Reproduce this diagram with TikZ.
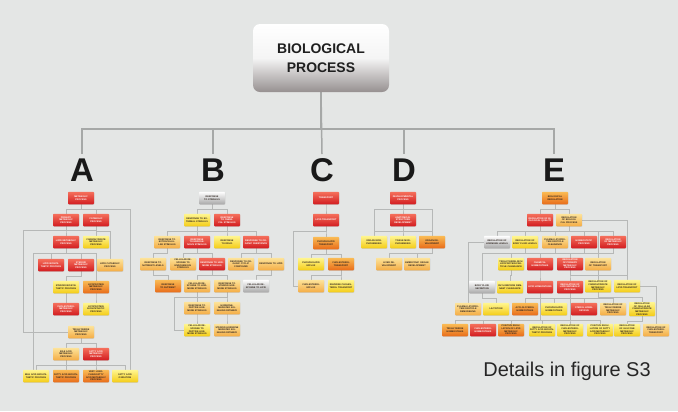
\documentclass[tikz,border=0pt]{standalone}
\usepackage{fontspec}
\setmainfont{Liberation Sans}
\usetikzlibrary{shadows,calc,backgrounds}
\definecolor{bgc}{RGB}{228,230,229}
\definecolor{linec}{RGB}{166,168,167}
\definecolor{conc}{RGB}{182,184,183}
\definecolor{rT}{RGB}{245,112,92}
\definecolor{rB}{RGB}{210,28,32}
\definecolor{oT}{RGB}{250,188,85}
\definecolor{oB}{RGB}{232,108,25}
\definecolor{lT}{RGB}{253,228,155}
\definecolor{lB}{RGB}{244,172,68}
\definecolor{yT}{RGB}{255,246,145}
\definecolor{yB}{RGB}{244,204,22}
\definecolor{wB}{RGB}{168,168,168}
\definecolor{txtd}{RGB}{45,35,30}
\definecolor{topB}{RGB}{150,144,144}
\newcommand\myedge[3]{\draw[cn] (#1.south) -- ++(0,#3) -| (#2.north);}
\tikzset{
  bx/.style={rounded corners=0.8bp, minimum width=26bp, minimum height=12.5bp,
    text width=24bp, inner xsep=1bp, inner ysep=0.8bp, align=center,
    font=\bfseries\fontsize{2.3}{2.7}\selectfont,
    drop shadow={opacity=0.22, shadow xshift=0.4bp, shadow yshift=-0.5bp}},
  cR/.style={bx, top color=rT, bottom color=rB, text=white},
  cO/.style={bx, top color=oT, bottom color=oB, text=txtd},
  cL/.style={bx, top color=lT, bottom color=lB, text=txtd},
  cY/.style={bx, top color=yT, bottom color=yB, text=txtd},
  cW/.style={bx, top color=white, bottom color=wB, text=txtd},
  cn/.style={draw=conc, line width=0.6bp},
  mainln/.style={draw=linec, line width=1.5bp},
  letter/.style={font=\bfseries\fontsize{33}{33}\selectfont, text=black!90, inner sep=0pt,
    text height=24bp, text depth=0pt, outer sep=3bp, anchor=base},
  topbox/.style={rounded corners=7bp, minimum width=136bp, minimum height=68bp,
    top color=white, bottom color=topB, middle color=white!92!gray,
    align=center, text=black!88, font=\bfseries\fontsize{14}{19}\selectfont}
}
\begin{document}
\begin{tikzpicture}[x=1bp,y=-1bp]
\useasboundingbox (0,0) rectangle (678,411);

% ---------- top ----------
\node[topbox] (T) at (321,58) {BIOLOGICAL\\PROCESS};
\node[letter] (LA) at (82,181) {A};
\node[letter] (LB) at (213,181) {B};
\node[letter] (LC) at (322,181) {C};
\node[letter] (LD) at (404,181) {D};
\node[letter] (LE) at (554,181) {E};

% ---------- A nodes ----------
\node[cR] (A1) at (81,198) {METABOLIC PROCESS};
\node[cR] (A2) at (66,220) {PRIMARY METABOLIC PROCESS};
\node[cR] (A3) at (96,220) {CATABOLIC PROCESS};
\node[cR] (A4) at (66,242) {LIPID METABOLIC PROCESS};
\node[cY] (A5) at (96,242) {CARBOHYDRATE METABOLIC PROCESS};
\node[cR] (A6) at (51,265) {LIPID BIOSYNTHETIC PROCESS};
\node[cR] (A7) at (81,265) {STEROID METABOLIC PROCESS};
\node[cL] (A8) at (110,265) {LIPID CATABOLIC PROCESS};
\node[cY] (A9) at (66,287) {STEROID BIOSYNTHETIC PROCESS};
\node[cO] (A10) at (96,287) {LIPOPROTEIN METABOLIC PROCESS};
\node[cR] (A11) at (66,309) {CHOLESTEROL METABOLIC PROCESS};
\node[cY] (A12) at (96,309) {LIPOPROTEIN BIOSYNTHETIC PROCESS};
\node[cL] (A13) at (81,332) {TRIGLYCERIDE METABOLIC PROCESS};
\node[cL] (A14) at (66,354) {BILE ACID METABOLIC PROCESS};
\node[cR] (A15) at (96,354) {FATTY ACID METABOLIC PROCESS};
\node[cY] (A16) at (36,376) {BILE ACID BIOSYNTHETIC PROCESS};
\node[cO] (A17) at (66,376) {FATTY ACID BIOSYNTHETIC PROCESS};
\node[cO] (A18) at (96,376) {VERY LONG-CHAIN FATTY ACID METABOLIC PROCESS};
\node[cY] (A19) at (125,376) {FATTY ACID OXIDATION};

% ---------- B nodes ----------
\node[cW] (B1) at (212,198) {RESPONSE TO STIMULUS};
\node[cY] (B2) at (197,220) {RESPONSE TO EXTERNAL STIMULUS};
\node[cR] (B3) at (227,220) {RESPONSE TO CHEMICAL STIMULUS};
\node[cL] (B4) at (167,242) {RESPONSE TO EXTRACELLULAR STIMULUS};
\node[cR] (B5) at (197,242) {RESPONSE TO ENDOGENOUS STIMULUS};
\node[cY] (B6) at (227,242) {RESPONSE TO DRUG};
\node[cR] (B7) at (256,242) {RESPONSE TO ORGANIC SUBSTANCE};
\node[cL] (B8) at (153,264) {RESPONSE TO NUTRIENT LEVELS};
\node[cL] (B9) at (183,264) {CELLULAR RESPONSE TO ENDOGENOUS STIMULUS};
\node[cR] (B10) at (212,264) {RESPONSE TO HORMONE STIMULUS};
\node[cL] (B11) at (241,264) {RESPONSE TO ORGANIC CYCLIC COMPOUND};
\node[cL] (B12) at (271,264) {RESPONSE TO LIPID};
\node[cO] (B13) at (168,286) {RESPONSE TO NUTRIENT};
\node[cL] (B14) at (197,286) {CELLULAR RESPONSE TO HORMONE STIMULUS};
\node[cL] (B15) at (227,286) {RESPONSE TO STEROID HORMONE STIMULUS};
\node[cW] (B16) at (256,286) {CELLULAR RESPONSE TO LIPID};
\node[cL] (B17) at (197,308) {RESPONSE TO PEPTIDE HORMONE STIMULUS};
\node[cL] (B18) at (227,308) {HORMONE-MEDIATED SIGNALING PATHWAY};
\node[cY] (B19) at (197,330) {CELLULAR RESPONSE TO PEPTIDE HORMONE STIMULUS};
\node[cL] (B20) at (227,330) {STEROID HORMONE MEDIATED SIGNALING PATHWAY};

% ---------- C nodes ----------
\node[cR] (C1) at (326,198) {TRANSPORT};
\node[cR] (C2) at (326,220) {LIPID TRANSPORT};
\node[cO] (C3) at (326,243) {PHOSPHOLIPID TRANSPORT};
\node[cY] (C4) at (311,264) {PHOSPHOLIPID EFFLUX};
\node[cO] (C5) at (341,264) {CHOLESTEROL TRANSPORT};
\node[cL] (C6) at (311,286) {CHOLESTEROL EFFLUX};
\node[cY] (C7) at (341,286) {REVERSE CHOLESTEROL TRANSPORT};

% ---------- D nodes ----------
\node[cR] (D1) at (403,198) {DEVELOPMENTAL PROCESS};
\node[cR] (D2) at (403,220) {ANATOMICAL STRUCTURE DEVELOPMENT};
\node[cY] (D3) at (374,242) {ORGAN MORPHOGENESIS};
\node[cY] (D4) at (403,242) {TISSUE MORPHOGENESIS};
\node[cO] (D5) at (432,242) {ORGAN DEVELOPMENT};
\node[cL] (D6) at (389,264) {LIVER DEVELOPMENT};
\node[cL] (D7) at (417,264) {EMBRYONIC ORGAN DEVELOPMENT};

% ---------- E nodes ----------
\node[cO] (E1) at (555,198) {BIOLOGICAL REGULATION};
\node[cR] (E2) at (540,220) {REGULATION OF BIOLOGICAL QUALITY};
\node[cL] (E3) at (569,220) {REGULATION OF BIOLOGICAL PROCESS};
\node[cW] (E4) at (497,242) {REGULATION OF HORMONE LEVELS};
\node[cY] (E5) at (525,242) {REGULATION OF BODY FLUID LEVELS};
\node[cL] (E6) at (555,242) {PLASMA LIPOPROTEIN PARTICLE CLEARANCE};
\node[cR] (E7) at (584,242) {HOMEOSTATIC PROCESS};
\node[cR] (E8) at (613,242) {REGULATION OF METABOLIC PROCESS};
\node[cY] (E9) at (511,264) {TRIGLYCERIDE-RICH LIPOPROTEIN PARTICLE CLEARANCE};
\node[cR] (E10) at (540,264) {CHEMICAL HOMEOSTASIS};
\node[cR] (E11) at (570,264) {REGULATION OF PRIMARY METABOLIC PROCESS};
\node[cL] (E12) at (598,264) {REGULATION OF TRANSPORT};
\node[cW] (E13) at (482,287) {BODY FLUID SECRETION};
\node[cY] (E14) at (510,287) {CHYLOMICRON REMNANT CLEARANCE};
\node[cR] (E15) at (540,287) {LIPID HOMEOSTASIS};
\node[cR] (E16) at (570,287) {REGULATION OF LIPID METABOLIC PROCESS};
\node[cY] (E17) at (598,286) {REGULATION OF CARBOHYDRATE METABOLIC PROCESS};
\node[cY] (E18) at (627,286) {REGULATION OF LIPID TRANSPORT};
\node[cL] (E19) at (468,309) {PLASMA LIPOPROTEIN PARTICLE REMODELING};
\node[cY] (E20) at (496,309) {LACTATION};
\node[cO] (E21) at (525,309) {ACYLGLYCEROL HOMEOSTASIS};
\node[cY] (E22) at (554,309) {PHOSPHOLIPID HOMEOSTASIS};
\node[cR] (E23) at (584,309) {STEROL HOMEOSTASIS};
\node[cL] (E24) at (613,309) {REGULATION OF TRIGLYCERIDE METABOLIC PROCESS};
\node[cY] (E25) at (642,309) {REGULATION OF CELLULAR CARBOHYDRATE METABOLIC PROCESS};
\node[cO] (E26) at (455,330) {TRIGLYCERIDE HOMEOSTASIS};
\node[cR] (E27) at (483,330) {CHOLESTEROL HOMEOSTASIS};
\node[cO] (E28) at (511,330) {POSITIVE REGULATION OF LIPID METABOLIC PROCESS};
\node[cY] (E29) at (542,330) {REGULATION OF FATTY ACID BIOSYNTHETIC PROCESS};
\node[cY] (E30) at (570,330) {REGULATION OF CHOLESTEROL METABOLIC PROCESS};
\node[cY] (E31) at (600,330) {POSITIVE REGULATION OF FATTY ACID METABOLIC PROCESS};
\node[cY] (E32) at (627,330) {REGULATION OF GLUCOSE METABOLIC PROCESS};
\node[cL] (E33) at (656,330) {REGULATION OF CHOLESTEROL TRANSPORT};

\node[font=\fontsize{20}{24}\selectfont, text=black!85, inner sep=0pt] (note) at (567,371) {Details in figure S3};

% ---------- background + connectors (behind boxes) ----------
\begin{pgfonlayer}{background}
\fill[bgc] (0,0) rectangle (678,411);
\foreach \l in {LA,LB,LD,LE}{\draw[mainln] (T.south) -- ++(0,37) -| (\l.north);}
\draw[mainln] (T.south) -- (LC.north);
% A
\myedge{A1}{A2}{5} \myedge{A1}{A3}{5}
\draw[cn] (A1.south) -- ++(0,5) -| ([xshift=5bp]A19.north);
\myedge{A2}{A4}{4} \myedge{A2}{A5}{4}
\draw[cn] (A2.south) -- ++(0,4) -| ([xshift=-45bp]A13.west) -- (A13.west);
\myedge{A3}{A8}{5}
\myedge{A4}{A6}{5} \myedge{A4}{A7}{5} \myedge{A4}{A10}{5}
\draw[cn] (A4.south) -- ++(0,5) -| ([xshift=-3bp]A16.north);
\myedge{A7}{A9}{5} \myedge{A7}{A11}{5}
\myedge{A10}{A12}{5}
\myedge{A13}{A14}{5} \myedge{A13}{A15}{5}
\myedge{A14}{A16}{5} \myedge{A15}{A17}{5} \myedge{A15}{A18}{5} \myedge{A15}{A19}{5}
% B
\myedge{B1}{B2}{5} \myedge{B1}{B3}{5}
\myedge{B2}{B4}{5} \myedge{B3}{B5}{5} \myedge{B3}{B6}{5} \myedge{B3}{B7}{5}
\myedge{B4}{B8}{5} \myedge{B5}{B9}{5} \myedge{B5}{B10}{5} \myedge{B7}{B11}{5} \myedge{B7}{B12}{5}
\myedge{B8}{B13}{5} \myedge{B10}{B14}{5} \myedge{B10}{B15}{5} \myedge{B12}{B16}{5}
\myedge{B15}{B17}{5} \myedge{B15}{B18}{5}
\draw[cn] (B14.south) -- ++(0,5) -| ([xshift=-10bp]B19.west) -- (B19.west);
\myedge{B17}{B19}{5} \myedge{B18}{B20}{5}
% C
\myedge{C1}{C2}{5} \myedge{C2}{C3}{5} \myedge{C3}{C4}{5} \myedge{C3}{C5}{5}
\myedge{C5}{C6}{5} \myedge{C5}{C7}{5}
\draw[cn] (C2.south) -- ++(0,5) -| ([xshift=-5bp]C6.west) -- (C6.west);
% D
\myedge{D1}{D2}{5} \myedge{D1}{D3}{5} \myedge{D1}{D5}{5}
\myedge{D2}{D3}{5} \myedge{D2}{D4}{5} \myedge{D2}{D5}{5}
\myedge{D5}{D6}{5} \myedge{D5}{D7}{5}
% E
\myedge{E1}{E2}{5} \myedge{E1}{E3}{5}
\myedge{E2}{E4}{5} \myedge{E2}{E5}{5} \myedge{E2}{E6}{5} \myedge{E2}{E7}{5}
\myedge{E3}{E8}{5} \myedge{E3}{E12}{5}
\draw[cn] (E3.east) -| (E18.north);
\draw[cn] (E4.west) -| (E19.north);
\myedge{E5}{E13}{5} \myedge{E6}{E9}{5} \myedge{E9}{E14}{5}
\myedge{E7}{E10}{5} \myedge{E10}{E15}{5}
\myedge{E8}{E11}{5}
\myedge{E13}{E20}{5}
\myedge{E15}{E21}{5} \myedge{E15}{E22}{5} \myedge{E15}{E23}{5}
\myedge{E15}{E26}{27} \myedge{E15}{E27}{27}
\myedge{E11}{E16}{5} \myedge{E11}{E17}{5}
\myedge{E16}{E24}{5}
\myedge{E16}{E28}{27} \myedge{E16}{E29}{27} \myedge{E16}{E30}{27} \myedge{E16}{E31}{27}
\myedge{E17}{E25}{5} \myedge{E25}{E32}{5}
\myedge{E12}{E18}{5}
\draw[cn] (E18.east) -| (E33.north);
\end{pgfonlayer}
\end{tikzpicture}
\end{document}
